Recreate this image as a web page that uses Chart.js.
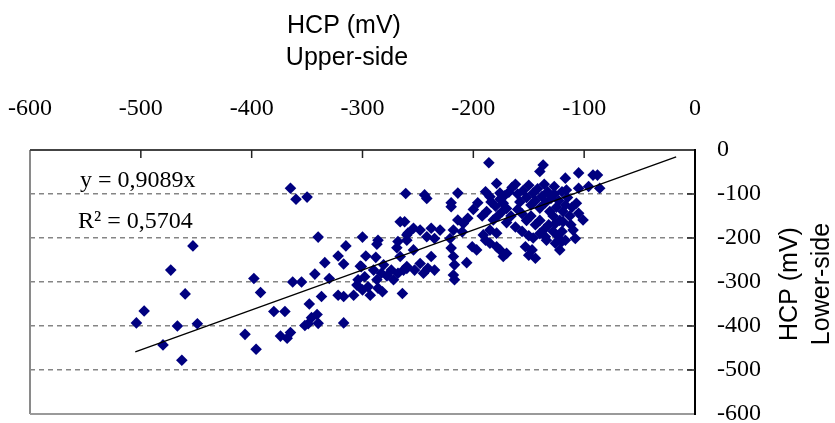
<!DOCTYPE html>
<html>
<head>
<meta charset="utf-8">
<script src="https://cdn.jsdelivr.net/npm/chart.js@4/dist/chart.umd.min.js"></script>
<style>
  body { margin: 0; background: #fff; }
  #wrap { width: 835px; height: 423px; position: relative; }
</style>
</head>
<body>
<div id="wrap"><canvas id="myChart"></canvas></div>
<script>
// HCP upper-side (x) vs lower-side (y), mV
var upperSide = [
  -504, -497, -473, -453, -460, -467, -449, -480, -463,
  -398, -392, -406, -396, -380, -370, -374, -368, -365, -363, -355,
  -365, -360, -350,
  -340, -343, -334, -330, -348, -337, -352, -346, -341, -340, -349,
  -322, -315, -317, -317, -322, -317,
  -300, -287, -286, -297, -288, -302, -282, -264,
  -261, -266, -262, -259, -269, -268, -260,
  -308, -305, -301, -298, -295, -293, -290, -287, -283, -281, -278, -274, -272, -268, -263, -260, -304, -300, -286,
  -242, -244, -214, -220, -220, -186, -189, -185, -179, -176, -173, -170,
  -254, -260, -248, -242, -238, -230, -235, -214, -209, -205, -218, -210, -221,
  -182, -179, -185, -191, -201, -197, -189, -185, -179, -176, -173, -170,
  -220, -218, -217, -218, -217, -238, -206, -260, -253, -248, -245, -241, -235, -254, -266,
  -137, -140, -105, -92, -88, -117, -127, -116, -105, -96, -86, -107, -105, -101, -110, -108, -117, -122, -126, -135,
  -153, -150, -144, -147, -126, -119, -120,
  -184, -180, -176, -172, -168, -165, -162, -160, -158, -155, -152, -150, -148, -146, -144, -142, -140, -138, -136, -135,
  -133, -131, -130, -128, -127, -125, -123, -122, -120, -119, -117, -115, -113, -112, -111, -160, -156, -152, -148, -144,
  -140, -136, -132, -128, -124, -166, -170, -162, -156, -150, -146, -140, -134, -120, -188, -192, -196, -200, -178, -174
];
var lowerSide = [
  -393, -366, -273, -218, -327, -400, -395, -443, -478,
  -292, -324, -419, -453, -367, -367, -423, -428, -415, -300, -300,
  -87, -112, -107,
  -198, -282, -256, -292, -350, -333, -399, -381, -374, -394, -395,
  -241, -218, -259, -393, -330, -333,
  -198, -214, -205, -241, -244, -264, -322, -326,
  -99, -163, -163, -189, -222, -208, -205,
  -330, -307, -265, -288, -311, -330, -273, -295, -280, -261, -286, -273, -295, -280, -273, -269, -295, -318, -314,
  -110, -102, -98, -129, -120, -29, -95, -106, -76, -98, -121, -133,
  -178, -193, -182, -197, -178, -182, -201, -159, -167, -155, -182, -186, -201,
  -159, -189, -182, -193, -220, -227, -205, -212, -220, -227, -242, -235,
  -223, -242, -261, -284, -295, -242, -256, -265, -273, -258, -280, -269, -273, -227, -242,
  -34, -49, -52, -57, -57, -64, -83, -91, -87, -83, -87, -121, -144, -159, -182, -201, -205, -227, -212, -197,
  -220, -239, -246, -227, -167, -163, -208,
  -118, -128, -112, -104, -96, -85, -78, -100, -118, -92, -108, -80, -125, -98, -115, -88, -132, -105, -78, -120,
  -95, -140, -110, -150, -100, -130, -115, -160, -95, -140, -125, -108, -150, -170, -130, -135, -145, -160, -150, -170,
  -160, -180, -170, -185, -195, -150, -165, -175, -185, -195, -200, -190, -205, -185, -140, -150, -120, -135, -150, -140
];

var slope = 0.9089;
var r2 = 0.5704;
var trendX = [-505, -17];
var xTicks = [-600, -500, -400, -300, -200, -100, 0];
var yTicks = [-600, -500, -400, -300, -200, -100, 0];

var points = upperSide.map(function (v, i) { return { x: v, y: lowerSide[i] }; });
var trend = trendX.map(function (v) { return { x: v, y: slope * v }; });

var serif = '"Liberation Serif", "Times New Roman", serif';
var sans = '"Liberation Sans", Arial, sans-serif';

var boxPlugin = {
  id: 'boxAndText',
  afterDraw: function (chart) {
    var ctx = chart.ctx, a = chart.chartArea;
    var xs = chart.scales.x, ys = chart.scales.y;
    ctx.save();
    // frame
    ctx.lineWidth = 2;
    ctx.strokeStyle = '#8a8a8a';
    ctx.beginPath(); ctx.moveTo(a.left, a.top); ctx.lineTo(a.left, a.bottom); ctx.stroke();
    ctx.strokeStyle = '#9a9a9a';
    ctx.beginPath(); ctx.moveTo(a.left, a.bottom); ctx.lineTo(a.right, a.bottom); ctx.stroke();
    ctx.strokeStyle = '#444';
    ctx.beginPath(); ctx.moveTo(a.left, a.top); ctx.lineTo(a.right, a.top); ctx.stroke();
    ctx.strokeStyle = '#000';
    ctx.beginPath(); ctx.moveTo(a.right, a.top - 1); ctx.lineTo(a.right, a.bottom + 1); ctx.stroke();
    // inside tick marks
    ctx.lineWidth = 1.5;
    ctx.strokeStyle = '#222';
    xTicks.slice(1, -1).forEach(function (v) {
      var px = xs.getPixelForValue(v);
      ctx.beginPath(); ctx.moveTo(px, a.top); ctx.lineTo(px, a.top + 8); ctx.stroke();
    });
    yTicks.slice(1, -1).forEach(function (v) {
      var py = ys.getPixelForValue(v);
      ctx.beginPath(); ctx.moveTo(a.right, py); ctx.lineTo(a.right - 8, py); ctx.stroke();
    });
    // axis titles
    ctx.fillStyle = '#000';
    ctx.font = '25px ' + sans;
    ctx.textAlign = 'center';
    ctx.textBaseline = 'alphabetic';
    ctx.fillText('HCP (mV)', 344, 33);
    ctx.fillText('Upper-side', 347, 65);
    ctx.save();
    ctx.translate(797, 284);
    ctx.rotate(-Math.PI / 2);
    ctx.fillText('HCP (mV)', 0, 0);
    ctx.restore();
    ctx.save();
    ctx.translate(829, 284);
    ctx.rotate(-Math.PI / 2);
    ctx.fillText('Lower-side', 0, 0);
    ctx.restore();
    // regression text
    ctx.font = '24px ' + serif;
    ctx.textAlign = 'left';
    ctx.fillText('y = ' + String(slope).replace('.', ',') + 'x', 80, 187);
    ctx.fillText('R\u00B2 = ' + String(r2).replace('.', ','), 78, 228);
    ctx.restore();
  }
};

var ctx = document.getElementById('myChart').getContext('2d');
new Chart(ctx, {
  type: 'scatter',
  data: {
    datasets: [{
      label: 'HCP',
      data: points,
      pointStyle: 'rectRot',
      pointRadius: 5.8,
      backgroundColor: '#000080',
      borderColor: '#000080',
      borderWidth: 0,
      order: 2
    }, {
      type: 'line',
      label: 'trend',
      data: trend,
      borderColor: '#000',
      borderWidth: 1.3,
      pointRadius: 0,
      fill: false,
      order: 1
    }]
  },
  plugins: [boxPlugin],
  options: {
    responsive: true,
    maintainAspectRatio: false,
    animation: false,
    layout: { padding: { left: 30, right: 0, top: 0, bottom: 9 } },
    plugins: { legend: { display: false }, tooltip: { enabled: false } },
    scales: {
      x: {
        type: 'linear',
        position: 'top',
        min: -600,
        max: 0,
        afterBuildTicks: function (s) { s.ticks = xTicks.map(function (v) { return { value: v }; }); },
        afterFit: function (s) { s.height = 150; s.paddingLeft = 0; s.paddingRight = 0; },
        ticks: { font: { family: serif, size: 24 }, color: '#000', padding: 27, maxRotation: 0 },
        grid: { display: false, drawTicks: false },
        border: { display: false }
      },
      y: {
        type: 'linear',
        position: 'right',
        min: -600,
        max: 0,
        afterBuildTicks: function (s) { s.ticks = yTicks.map(function (v) { return { value: v }; }); },
        afterFit: function (s) { s.width = 140; s.paddingTop = 0; s.paddingBottom = 0; },
        ticks: { font: { family: serif, size: 24 }, color: '#000', padding: 22 },
        grid: {
          drawTicks: false,
          lineWidth: 1.5,
          color: function (c) {
            if (c.tick && (c.tick.value === 0 || c.tick.value === -600)) return 'rgba(0,0,0,0)';
            return '#858585';
          }
        },
        border: { display: false, dash: [5, 4] }
      }
    }
  }
});
</script>
</body>
</html>
